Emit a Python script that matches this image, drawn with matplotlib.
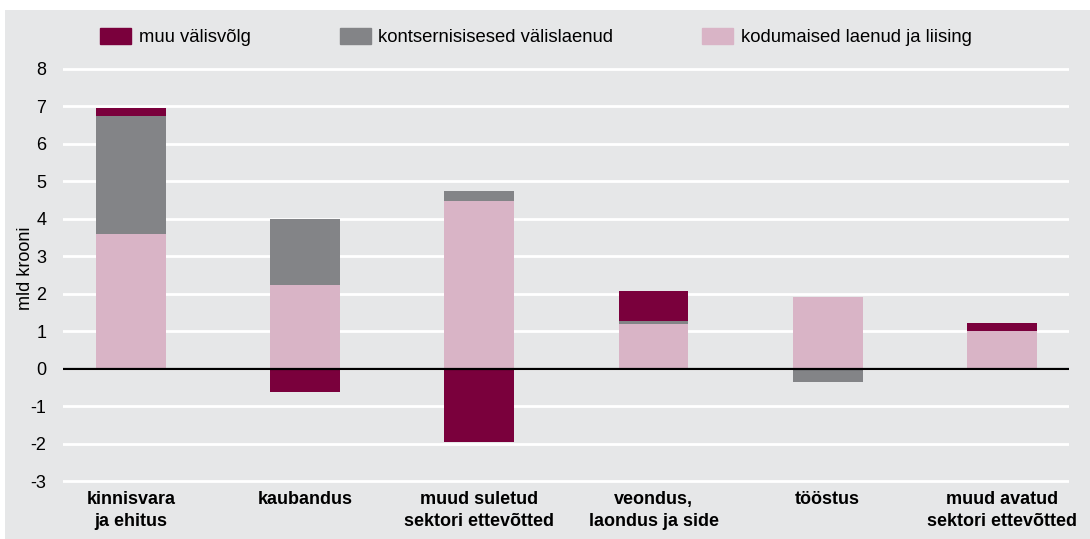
import numpy as np
import matplotlib.pyplot as plt
from matplotlib.patches import Patch, Rectangle

plt.rcParams['font.family'] = ['Liberation Sans', 'DejaVu Sans']
plt.rcParams['axes.unicode_minus'] = False

categories = ["kinnisvara\nja ehitus", "kaubandus", "muud suletud\nsektori ettevõtted",
              "veondus,\nlaondus ja side", "tööstus", "muud avatud\nsektori ettevõtted"]
kodumaised = [3.60, 2.22, 4.47, 1.20, 1.91, 1.00]
kontsern = [3.14, 1.77, 0.27, 0.06, -0.35, -0.04]
muu_valisvolg = [0.22, -0.62, -1.95, 0.81, 0.0, 0.21]

series = [("kodumaised laenud ja liising", kodumaised, "#d9b4c6"),
          ("kontsernisisesed välislaenud", kontsern, "#838487"),
          ("muu välisvõlg", muu_valisvolg, "#7a003c")]

bg = "#e6e7e8"
fig = plt.figure(figsize=(10.9, 5.39), dpi=100)
fig.patches.append(Rectangle((5 / 1090, 0), 1, 1 - 10 / 539, transform=fig.transFigure,
                             facecolor=bg, edgecolor='none', zorder=-10))
ax = fig.add_axes([63 / 1090, (539 - 488.5) / 539, (1069 - 63) / 1090, 427 / 539])
ax.set_facecolor(bg)

x = np.arange(len(categories))
pos_bottom = np.zeros(len(x))
neg_bottom = np.zeros(len(x))
for name, vals, color in series:
    vals = np.array(vals)
    bottom = np.where(vals >= 0, pos_bottom, neg_bottom)
    ax.bar(x, vals, 0.4, bottom=bottom, color=color, zorder=3)
    pos_bottom += np.clip(vals, 0, None)
    neg_bottom += np.clip(vals, None, 0)

ax.set_xlim(-0.39, 5.385)
ax.set_ylim(-3.2, 8.2)
ax.set_yticks(range(-3, 9))
ax.grid(axis='y', color='white', linewidth=2, zorder=1)
ax.axhline(0, color='black', linewidth=1.6, zorder=4)
for s in ax.spines.values():
    s.set_visible(False)
ax.tick_params(axis='both', length=0, labelsize=13)
ax.tick_params(axis='y', pad=12)
ax.tick_params(axis='x', pad=2)
ax.set_xticks(x)
ax.set_xticklabels(categories, fontweight='bold', va='top', linespacing=1.35)
ax.set_ylabel("mld krooni", fontsize=13)
ax.yaxis.set_label_coords(-0.029, 0.516)

handles = [Patch(color=c, label=n) for n, _, c in series[::-1]]
fig.legend(handles=handles, loc='center left', bbox_to_anchor=(100 / 1090, 1 - 37 / 539),
           ncol=3, frameon=False, fontsize=13.3, borderpad=0, borderaxespad=0,
           handlelength=1.68, handleheight=0.97, handletextpad=0.43, columnspacing=4.8)

fig.savefig("out.png", dpi=100, facecolor='white')
